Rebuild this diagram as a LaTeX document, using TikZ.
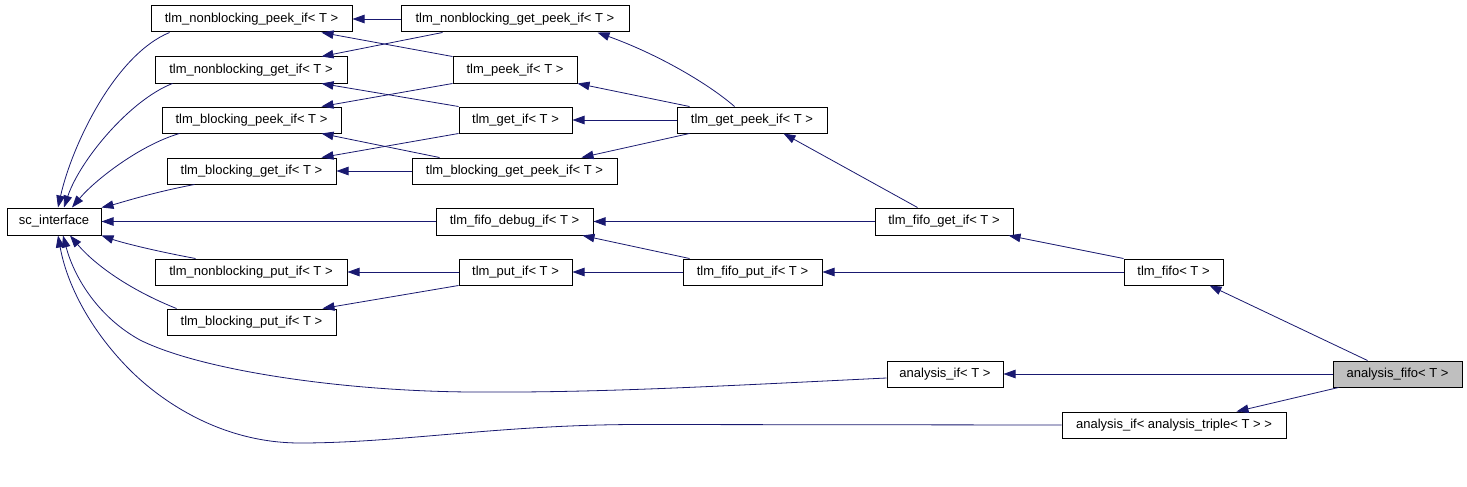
\documentclass[tikz,border=0pt]{standalone}
\usepackage{fontspec}
\setmainfont{Liberation Sans}
\usetikzlibrary{arrows.meta,calc}
\definecolor{navyline}{RGB}{25,25,112}
\definecolor{selgray}{RGB}{191,191,191}
\tikzset{
  box/.style={draw=black, line width=1pt, fill=white, minimum height=26pt, inner sep=0pt, font=\fontsize{13}{15}\selectfont},
  inh/.style={draw=navyline, line width=0.8pt, -{Triangle[length=12pt,width=8.5pt]}}
}
\begin{document}
\begin{tikzpicture}[x=1pt,y=-1pt]
\useasboundingbox (0,0) rectangle (1467,487);
\fill[white] (0,0) rectangle (1467,487);
% nodes
\node[box, minimum width=201pt] (nbpeek) at (251.5,19) {tlm\_nonblocking\_peek\_if< T >};
\node[box, minimum width=228pt] (nbgp) at (515,19) {tlm\_nonblocking\_get\_peek\_if< T >};
\node[box, minimum width=192pt] (nbget) at (251,70) {tlm\_nonblocking\_get\_if< T >};
\node[box, minimum width=124pt] (peek) at (515,70) {tlm\_peek\_if< T >};
\node[box, minimum width=179pt] (bpeek) at (251.5,120) {tlm\_blocking\_peek\_if< T >};
\node[box, minimum width=113pt] (get) at (515.5,120) {tlm\_get\_if< T >};
\node[box, minimum width=150pt] (getpeek) at (752,120) {tlm\_get\_peek\_if< T >};
\node[box, minimum width=169pt] (bget) at (251.5,171) {tlm\_blocking\_get\_if< T >};
\node[box, minimum width=205pt] (bgp) at (514.5,171) {tlm\_blocking\_get\_peek\_if< T >};
\node[box, minimum width=94pt, minimum height=27pt] (sc) at (54,221.5) {sc\_interface};
\node[box, minimum width=157pt, minimum height=27pt] (fifodebug) at (514.5,221.5) {tlm\_fifo\_debug\_if< T >};
\node[box, minimum width=138pt, minimum height=27pt] (fifoget) at (944,221.5) {tlm\_fifo\_get\_if< T >};
\node[box, minimum width=192pt] (nbput) at (251,272) {tlm\_nonblocking\_put\_if< T >};
\node[box, minimum width=113pt] (put) at (515.5,272) {tlm\_put\_if< T >};
\node[box, minimum width=139pt] (fifoput) at (752.5,272) {tlm\_fifo\_put\_if< T >};
\node[box, minimum width=99pt] (fifo) at (1173.5,272) {tlm\_fifo< T >};
\node[box, minimum width=169pt] (bput) at (251.5,322) {tlm\_blocking\_put\_if< T >};
\node[box, minimum width=116pt] (aif) at (945,374) {analysis\_if< T >};
\node[box, minimum width=129pt, fill=selgray] (afifo) at (1397.5,374) {analysis\_fifo< T >};
\node[box, minimum width=224pt] (triple) at (1174,425) {analysis\_if< analysis\_triple< T > >};
% edges to sc_interface
\draw[inh] ($(nbpeek.south west)+(19,0)$) .. controls (115,55) and (72,145) .. ($(sc.north)+(4,0)$);
\draw[inh] ($(nbget.south west)+(18,0)$) .. controls (130,100) and (80,160) .. ($(sc.north)+(10,0)$);
\draw[inh] ($(bpeek.south west)+(18,0)$) .. controls (140,145) and (95,180) .. ($(sc.north)+(18,0)$);
\draw[inh] ($(bget.south west)+(28,0)$) .. controls (150,193) and (120,203) .. (sc.north east);
\draw[inh] (fifodebug.west) -- (sc.east);
\draw[inh] ($(nbput.north west)+(41,0)$) .. controls (150,250) and (120,242) .. (sc.south east);
\draw[inh] ($(bput.north west)+(10,0)$) .. controls (130,290) and (95,265) .. ($(sc.south)+(16,0)$);
\draw[inh] ($(aif.west)+(0,4)$) .. controls (720,386) and (600,393) .. (470,392)
  .. controls (340,391) and (200,370) .. (140,340)
  .. controls (100,318) and (75,280) .. ($(sc.south)+(9,0)$);
\draw[inh] (triple.west) -- (640,424.5) .. controls (500,424.5) and (400,443) .. (300,443)
  .. controls (220,443) and (160,400) .. (130,370)
  .. controls (95,335) and (68,290) .. ($(sc.south)+(4,0)$);
% column 2 -> column 1
\draw[inh] (nbgp.west) -- (nbpeek.east);
\draw[inh] ($(nbgp.south west)+(42,0)$) -- ($(nbget.north east)+(-26,0)$);
\draw[inh] (peek.north west) -- ($(nbpeek.south east)+(-31,0)$);
\draw[inh] (peek.south west) -- ($(bpeek.north east)+(-20,0)$);
\draw[inh] (get.north west) -- ($(nbget.south east)+(-26,0)$);
\draw[inh] (get.south west) -- ($(bget.north east)+(-15,0)$);
\draw[inh] ($(bgp.north west)+(28,0)$) -- ($(bpeek.south east)+(-20,0)$);
\draw[inh] (bgp.west) -- (bget.east);
\draw[inh] (put.west) -- (nbput.east);
\draw[inh] (put.south west) -- ($(bput.north east)+(-14,0)$);
% column 3 -> column 2
\draw[inh] ($(getpeek.north west)+(58,0)$) .. controls (710,85) and (660,55) .. ($(nbgp.south east)+(-32,0)$);
\draw[inh] ($(getpeek.north west)+(13,0)$) -- (peek.south east);
\draw[inh] (getpeek.west) -- (get.east);
\draw[inh] ($(getpeek.south west)+(13,0)$) -- ($(bgp.north east)+(-36,0)$);
\draw[inh] ($(fifoput.north west)+(7,0)$) -- ($(fifodebug.south east)+(-11,0)$);
\draw[inh] (fifoput.west) -- (put.east);
% column 4
\draw[inh] ($(fifoget.north west)+(43,0)$) -- ($(getpeek.south east)+(-44,0)$);
\draw[inh] (fifoget.west) -- (fifodebug.east);
% column 5
\draw[inh] (fifo.north west) -- ($(fifoget.south east)+(-5,0)$);
\draw[inh] (fifo.west) -- (fifoput.east);
% column 6
\draw[inh] ($(afifo.north west)+(35,0)$) -- ($(fifo.south east)+(-14,0)$);
\draw[inh] (afifo.west) -- (aif.east);
\draw[inh] ($(afifo.south west)+(6,0)$) -- ($(triple.north east)+(-50,0)$);
\end{tikzpicture}
\end{document}
